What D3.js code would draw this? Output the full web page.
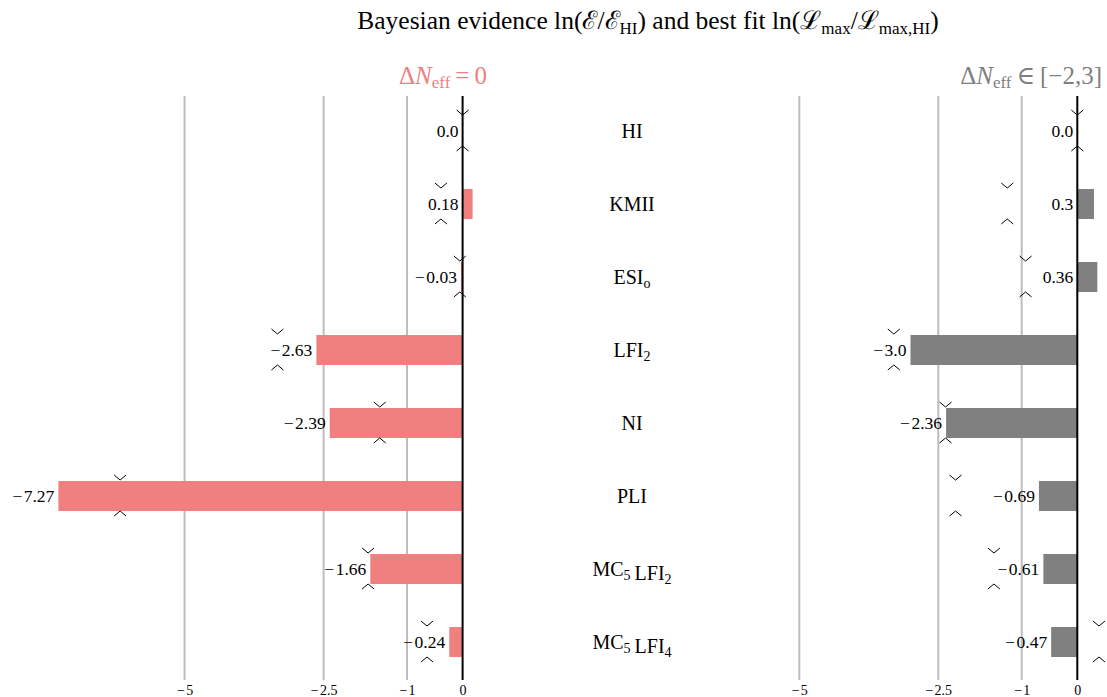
<!DOCTYPE html>
<html>
<head>
<meta charset="utf-8">
<style>
  body { margin: 0; background: #fff; }
  svg { display: block; font-family: "Liberation Serif", "DejaVu Serif", serif; }
</style>
</head>
<body>
<svg id="chart" width="1107" height="697"></svg>
<script src="https://d3js.org/d3.v7.min.js"></script>
<script>

// models, top to bottom (main text + subscript parts)
var models = [
  [["HI", ""]],
  [["KMII", ""]],
  [["ESI", "o"]],
  [["LFI", "2"]],
  [["NI", ""]],
  [["PLI", ""]],
  [["MC", "5"], ["\u2009LFI", "2"]],
  [["MC", "5"], ["\u2009LFI", "4"]]
];
var modelIds = ["HI", "KMII", "ESIo", "LFI2", "NI", "PLI", "MC5LFI2", "MC5LFI4"];

// ln(E/E_HI) bars
var evidenceFixed = [0.0, 0.18, -0.03, -2.63, -2.39, -7.27, -1.66, -0.24];   // dNeff = 0
var evidenceFree  = [0.0, 0.3, 0.36, -3.0, -2.36, -0.69, -0.61, -0.47];      // dNeff in [-2,3]

// ln(Lmax/Lmax,HI) chevrons
var bestFitFixed = [0.0, -0.39, -0.05, -3.33, -1.49, -6.16, -1.70, -0.64];
var bestFitFree  = [0.0, -1.26, -0.93, -3.30, -2.37, -2.19, -1.50, 0.39];

var tickVals = [-5, -2.5, -1, 0];

var svg = d3.select("#chart");
var pink = "#f08080", grey = "#808080";

var y = d3.scalePoint().domain(modelIds).range([131, 642]);
var barH = 30;
var yTop = 96, yBottom = 680;

var xL = d3.scaleLinear().domain([0, -5]).range([462.6, 184.6]);
var xR = d3.scaleLinear().domain([0, -5]).range([1077.3, 799.3]);

// minus sign a bit wider, like the TeX one
function minus(s) { return s.replace("-", "\u2212\u200A"); }

function pyStr(v) {
  var s = String(v);
  if (s.indexOf(".") < 0) s += ".0";
  return minus(s);
}

function panel(x, vals, fits, color) {
  var g = svg.append("g");

  // grid
  g.selectAll("line.grid").data(tickVals.filter(function(d) { return d != 0; }))
    .enter().append("line")
    .attr("x1", function(d) { return x(d); }).attr("x2", function(d) { return x(d); })
    .attr("y1", yTop).attr("y2", yBottom)
    .attr("stroke", "#bdbdbd").attr("stroke-width", 2);

  // bars
  g.selectAll("rect").data(vals).enter().append("rect")
    .attr("x", function(d) { return Math.min(x(d), x(0)); })
    .attr("width", function(d) { return Math.abs(x(d) - x(0)); })
    .attr("y", function(d, i) { return y(modelIds[i]) - barH / 2; })
    .attr("height", barH)
    .attr("fill", color);

  // zero line
  g.append("line")
    .attr("x1", x(0)).attr("x2", x(0)).attr("y1", yTop).attr("y2", yBottom)
    .attr("stroke", "#000").attr("stroke-width", 2);

  // value labels
  g.selectAll("text.val").data(vals).enter().append("text")
    .attr("x", function(d) { return Math.min(x(d), x(0)) - 4; })
    .attr("y", function(d, i) { return y(modelIds[i]) + 6; })
    .attr("text-anchor", "end")
    .attr("font-size", 17.5)
    .text(pyStr);

  // best fit chevrons
  var w = 6, h = 5;
  fits.forEach(function(d, i) {
    var cx = x(d), cy = y(modelIds[i]);
    g.append("path")
      .attr("d", "M" + (cx - w) + "," + (cy - 21) + "L" + cx + "," + (cy - 21 + h) + "L" + (cx + w) + "," + (cy - 21))
      .attr("fill", "none").attr("stroke", "#000").attr("stroke-width", 1);
    g.append("path")
      .attr("d", "M" + (cx - w) + "," + (cy + 20) + "L" + cx + "," + (cy + 20 - h) + "L" + (cx + w) + "," + (cy + 20))
      .attr("fill", "none").attr("stroke", "#000").attr("stroke-width", 1);
  });

  // axis
  var ax = g.append("g").attr("transform", "translate(0," + yBottom + ")")
    .call(d3.axisBottom(x).tickValues(tickVals).tickSize(0).tickPadding(5)
      .tickFormat(function(d) { return minus(String(d)); }));
  ax.select(".domain").remove();
  ax.selectAll("text").attr("font-family", "Liberation Serif, serif").attr("font-size", 14).attr("fill", "#000");
}

panel(xL, evidenceFixed, bestFitFixed, pink);
panel(xR, evidenceFree, bestFitFree, grey);

// model names
var names = svg.append("g");
models.forEach(function(parts, i) {
  var t = names.append("text")
    .attr("x", 632).attr("y", y(modelIds[i]) + 7)
    .attr("text-anchor", "middle").attr("font-size", 20);
  parts.forEach(function(p) {
    t.append("tspan").text(p[0]);
    if (p[1]) {
      t.append("tspan").attr("font-size", 14).attr("dy", 4).text(p[1]);
      t.append("tspan").attr("dy", -4).text("");
    }
  });
});

// headers
function header(xp, anchor, color, tail) {
  var t = svg.append("text").attr("x", xp).attr("y", 84)
    .attr("text-anchor", anchor).attr("font-size", 25).attr("fill", color);
  t.append("tspan").text("\u0394");
  t.append("tspan").attr("font-style", "italic").text("N");
  t.append("tspan").attr("font-size", 17).attr("dy", 4).text("eff");
  t.append("tspan").attr("dy", -4).text(tail);
}
header(443, "middle", pink, "\u2009=\u20090");
header(1102, "end", grey, "\u2009\u2208\u2009[\u22122,3]");

// title
var title = svg.append("text").attr("x", 648).attr("y", 29)
  .attr("text-anchor", "middle").attr("font-size", 25.5);
title.append("tspan").text("Bayesian evidence ln(\u2130/\u2130");
title.append("tspan").attr("font-size", 17).attr("dy", 5).text("HI");
title.append("tspan").attr("dy", -5).text(") and best fit ln(\u2112");
title.append("tspan").attr("font-size", 17).attr("dy", 5).text("max");
title.append("tspan").attr("dy", -5).text("/\u2112");
title.append("tspan").attr("font-size", 17).attr("dy", 5).text("max,HI");
title.append("tspan").attr("dy", -5).text(")");

</script>
</body>
</html>
